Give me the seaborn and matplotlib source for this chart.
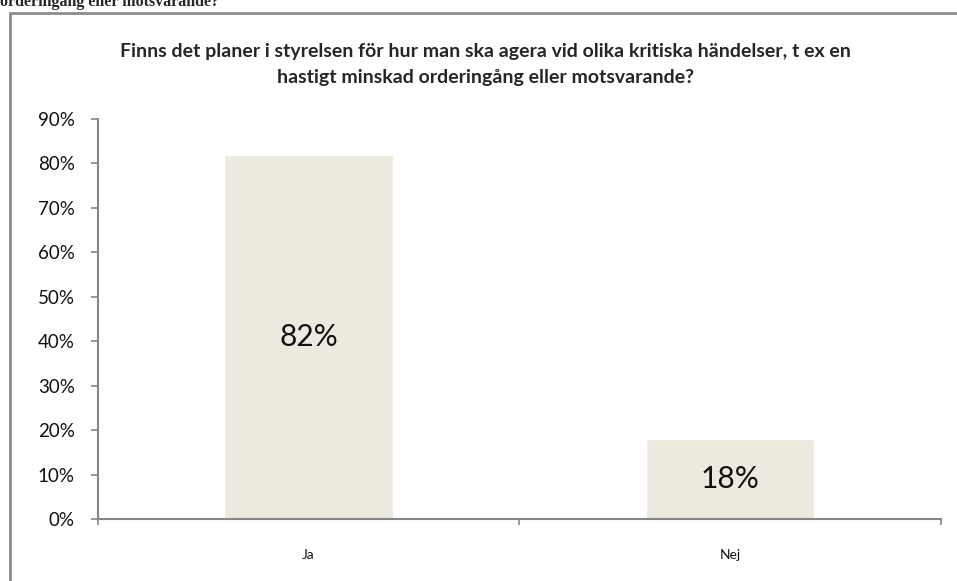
import matplotlib
matplotlib.use("Agg")
import matplotlib.pyplot as plt
import seaborn as sns
import pandas as pd
from matplotlib.patches import Rectangle
from matplotlib.ticker import PercentFormatter, FixedLocator

# data
categories = ["Ja", "Nej"]
shares = [0.82, 0.18]
bar_labels = ["82%", "18%"]
title = ("Finns det planer i styrelsen för hur man ska agera vid olika kritiska händelser, t ex en\n"
         "hastigt minskad orderingång eller motsvarande?")
cut_heading = "orderingång eller motsvarande?"

df = pd.DataFrame({"svar": categories, "andel": shares})

sns.set_style("white")
plt.rcParams["font.family"] = ["Lato", "DejaVu Sans"]

fig = plt.figure(figsize=(9.57, 5.81), dpi=100)
ax = fig.add_axes([0.1019, 0.1067, 0.8814, 0.6885])

sns.barplot(data=df, x="svar", y="andel", color="#ECE9DF", width=0.4,
            saturation=1, ax=ax)

ax.set_ylim(0, 0.9)
ax.set_xlim(-0.5, 1.5)
ax.yaxis.set_major_formatter(PercentFormatter(1.0, decimals=0))
ax.set_yticks([i / 10 for i in range(10)])
ax.set_xlabel("")
ax.set_ylabel("")

for s in ["top", "right"]:
    ax.spines[s].set_visible(False)
for s in ["left", "bottom"]:
    ax.spines[s].set_color("#868686")
    ax.spines[s].set_linewidth(1.5)

ax.tick_params(axis="y", left=True, length=5, width=1.2, color="#868686",
               labelsize=13.5, pad=11.5, labelcolor="#111111")
ax.tick_params(axis="x", bottom=False, labelsize=10, pad=18, labelcolor="#111111")
ax.xaxis.set_minor_locator(FixedLocator([-0.5, 0.5, 1.5]))
ax.tick_params(axis="x", which="minor", bottom=True, length=4, width=1.2,
               color="#868686")

for p, lab in zip(ax.patches, bar_labels):
    ax.text(p.get_x() + p.get_width() / 2, p.get_height() / 2, lab,
            ha="center", va="center", fontsize=21.5, color="#111111")

fig.text(0.507, 0.889, title, ha="center", va="center", fontsize=14,
         fontweight="bold", linespacing=1.65)

# outer chart frame, partly outside the picture
fig.patches.append(Rectangle((10 / 957, -0.1), 1.1, 1.1 - 13 / 581,
                             transform=fig.transFigure, fill=False,
                             edgecolor="#8c8c8c", linewidth=2))

# heading of the page above, cut off at the top
fig.text(0.0, 1 - 6 / 581, cut_heading, ha="left", va="baseline", fontsize=11.5,
         fontweight="bold", family=["Liberation Serif"])

fig.savefig("out.png", dpi=100)
